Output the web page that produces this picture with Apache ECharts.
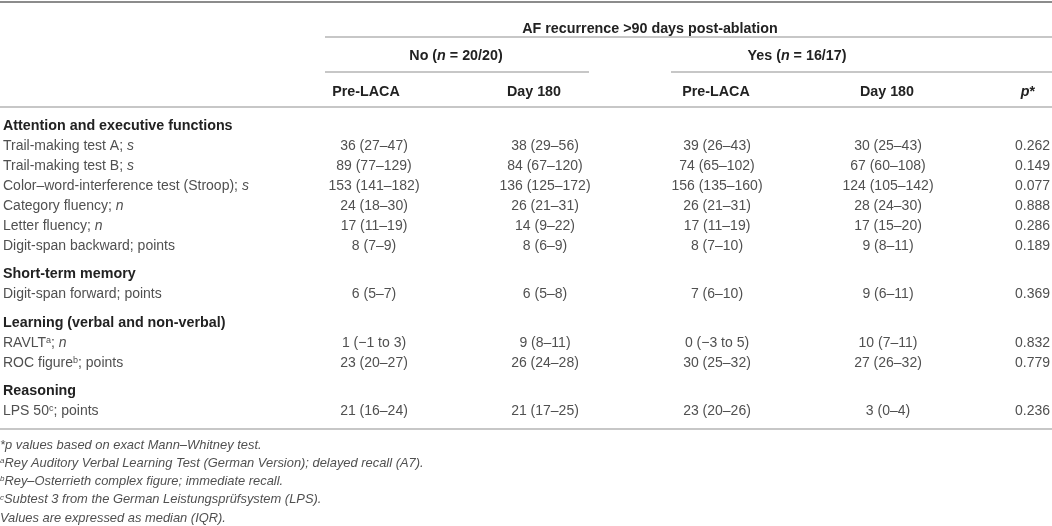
<!DOCTYPE html>
<html><head><meta charset="utf-8">
<script src="https://cdn.jsdelivr.net/npm/echarts@6/dist/echarts.min.js"></script>
<style>html,body{margin:0;padding:0;background:#fff}#c{width:1052px;height:526px}</style>
</head><body><div id="c"></div><script>
// ---------- data ----------
const spanHeader = "AF recurrence >90 days post-ablation";
const groupNames = ["No", "Yes"];
const groupCounts = ["20/20", "16/17"];
const columnHeaders = ["Pre-LACA", "Day 180", "Pre-LACA", "Day 180"];
const sections = ["Attention and executive functions", "Short-term memory", "Learning (verbal and non-verbal)", "Reasoning"];
const rowSection = [0, 0, 0, 0, 0, 0, 1, 2, 2, 3];
const rowNames = ["Trail-making test A", "Trail-making test B", "Color–word-interference test (Stroop)", "Category fluency", "Letter fluency", "Digit-span backward", "Digit-span forward", "RAVLT", "ROC figure", "LPS 50"];
const rowNotes = ["", "", "", "", "", "", "", "a", "b", "c"];
const rowUnits = ["s", "s", "s", "n", "n", "points", "points", "n", "points", "points"];
const noPre = ["36 (27–47)", "89 (77–129)", "153 (141–182)", "24 (18–30)", "17 (11–19)", "8 (7–9)", "6 (5–7)", "1 (−1 to 3)", "23 (20–27)", "21 (16–24)"];
const noDay180 = ["38 (29–56)", "84 (67–120)", "136 (125–172)", "26 (21–31)", "14 (9–22)", "8 (6–9)", "6 (5–8)", "9 (8–11)", "26 (24–28)", "21 (17–25)"];
const yesPre = ["39 (26–43)", "74 (65–102)", "156 (135–160)", "26 (21–31)", "17 (11–19)", "8 (7–10)", "7 (6–10)", "0 (−3 to 5)", "30 (25–32)", "23 (20–26)"];
const yesDay180 = ["30 (25–43)", "67 (60–108)", "124 (105–142)", "28 (24–30)", "17 (15–20)", "9 (8–11)", "9 (6–11)", "10 (7–11)", "27 (26–32)", "3 (0–4)"];
const pValues = ["0.262", "0.149", "0.077", "0.888", "0.286", "0.189", "0.369", "0.832", "0.779", "0.236"];
const footMarks = ["*", "a", "b", "c", ""];
const footTexts = ["p values based on exact Mann–Whitney test.", "Rey Auditory Verbal Learning Test (German Version); delayed recall (A7).", "Rey–Osterrieth complex figure; immediate recall.", "Subtest 3 from the German Leistungsprüfsystem (LPS).", "Values are expressed as median (IQR)."];

// ---------- layout (axis units) ----------
const W = 1052, H = 526;
const X = { label: 3, cols: [374, 545, 717, 888], pRight: 1050, heads: [366, 534, 716, 887], pHead: 1028, groups: [456, 797], span: 650 };
const Y = { top: 2, span: 29, rule1: 37, group: 56, rule2: 72, head: 92, rule3: 107, first: 126, step: 20, gap: 8.5, ruleGap: 17.5, footGap: 16, footStep: 18.3 };
const FONT = '"Liberation Sans", Arial, Helvetica, sans-serif';
const C_TEXT = '#505050', C_HEAD = '#222222', C_RULE = '#b4b4b4';

function st(size, weight, style, fill, extra) {
  return Object.assign({ fontSize: size, fontWeight: weight, fontStyle: style, fontFamily: FONT, fill: fill }, extra || {});
}
const RICH = {
  r: st(14, 'normal', 'normal', C_TEXT),
  i: st(14, 'normal', 'italic', C_TEXT),
  sup: st(9, 'normal', 'normal', C_TEXT, { verticalAlign: 'top' }),
  b: st(14.3, 'bold', 'normal', C_HEAD),
  bi: st(14.3, 'bold', 'italic', C_HEAD),
  fi: st(12.9, 'normal', 'italic', C_TEXT),
  fsup: st(8, 'normal', 'italic', C_TEXT, { verticalAlign: 'top' })
};

// ---------- build cells ----------
const cells = [];
const rules = [];
function cell(x, y, text, align) { cells.push({ x: x, y: y, text: text, align: align }); }

rules.push([0, W, Y.top, 2, '#8c8c8c']);
cell(X.span, Y.span, '{b|' + spanHeader + '}', 'center');
rules.push([325, W, Y.rule1, 1.5, C_RULE]);
groupNames.forEach((g, k) => cell(X.groups[k], Y.group, '{b|' + g + ' (}{bi|n}{b| = ' + groupCounts[k] + ')}', 'center'));
rules.push([325, 589, Y.rule2, 1.5, C_RULE]);
rules.push([671, W, Y.rule2, 1.5, C_RULE]);
columnHeaders.forEach((h, k) => cell(X.heads[k], Y.head, '{b|' + h + '}', 'center'));
cell(X.pHead, Y.head, '{bi|p}{b|*}', 'center');
rules.push([0, W, Y.rule3, 1.5, C_RULE]);

let y = Y.first;
let lastSection = -1;
const valueCols = [noPre, noDay180, yesPre, yesDay180];
rowNames.forEach((name, r) => {
  if (rowSection[r] !== lastSection) {
    if (lastSection !== -1) y += Y.step + Y.gap;
    lastSection = rowSection[r];
    cell(X.label, y, '{b|' + sections[lastSection] + '}', 'left');
  }
  y += Y.step;
  const unit = rowUnits[r];
  const unitTxt = (unit === 's' || unit === 'n') ? '{i|' + unit + '}' : '{r|' + unit + '}';
  const noteTxt = rowNotes[r] ? '{sup|' + rowNotes[r] + '}' : '';
  cell(X.label, y, '{r|' + name + '}' + noteTxt + '{r|; }' + unitTxt, 'left');
  valueCols.forEach((col, k) => cell(X.cols[k], y, '{r|' + col[r] + '}', 'center'));
  cell(X.pRight, y, '{r|' + pValues[r] + '}', 'right');
});
const bottomRule = y + Y.ruleGap;
rules.push([0, W, bottomRule, 1.5, C_RULE]);
footTexts.forEach((t, k) => {
  const fy = bottomRule + Y.footGap + k * Y.footStep;
  const m = footMarks[k];
  let txt;
  if (m === '*') txt = '{fi|*' + t + '}';
  else if (m) txt = '{fsup|' + m + '}{fi|' + t + '}';
  else txt = '{fi|' + t + '}';
  cell(0, fy, txt, 'left');
});

// ---------- chart ----------
const chart = echarts.init(document.getElementById('c'), null, { renderer: 'canvas' });
chart.setOption({
  animation: false,
  backgroundColor: '#ffffff',
  grid: { left: 0, right: 0, top: 0, bottom: 0 },
  xAxis: { type: 'value', min: 0, max: W, show: false },
  yAxis: { type: 'value', min: 0, max: H, inverse: true, show: false },
  series: [
    {
      type: 'custom', coordinateSystem: 'cartesian2d', clip: false, silent: true,
      data: rules.map((r, i) => [r[0], r[2], r[1], i]),
      encode: { x: [0, 2], y: 1 },
      renderItem: function (params, api) {
        const r = rules[api.value(3)];
        const a = api.coord([api.value(0), api.value(1)]);
        const b = api.coord([api.value(2), api.value(1)]);
        return { type: 'line', shape: { x1: a[0], y1: a[1], x2: b[0], y2: b[1] }, style: { stroke: r[4], lineWidth: r[3] } };
      }
    },
    {
      type: 'custom', coordinateSystem: 'cartesian2d', clip: false, silent: true,
      data: cells.map((c, i) => [c.x, c.y, i]),
      encode: { x: 0, y: 1 },
      renderItem: function (params, api) {
        const c = cells[api.value(2)];
        const p = api.coord([api.value(0), api.value(1)]);
        return {
          type: 'text', x: p[0], y: p[1],
          style: { text: c.text, rich: RICH, align: c.align, verticalAlign: 'middle', fontSize: 14, fontFamily: FONT, fill: C_TEXT }
        };
      }
    }
  ]
});
</script></body></html>
